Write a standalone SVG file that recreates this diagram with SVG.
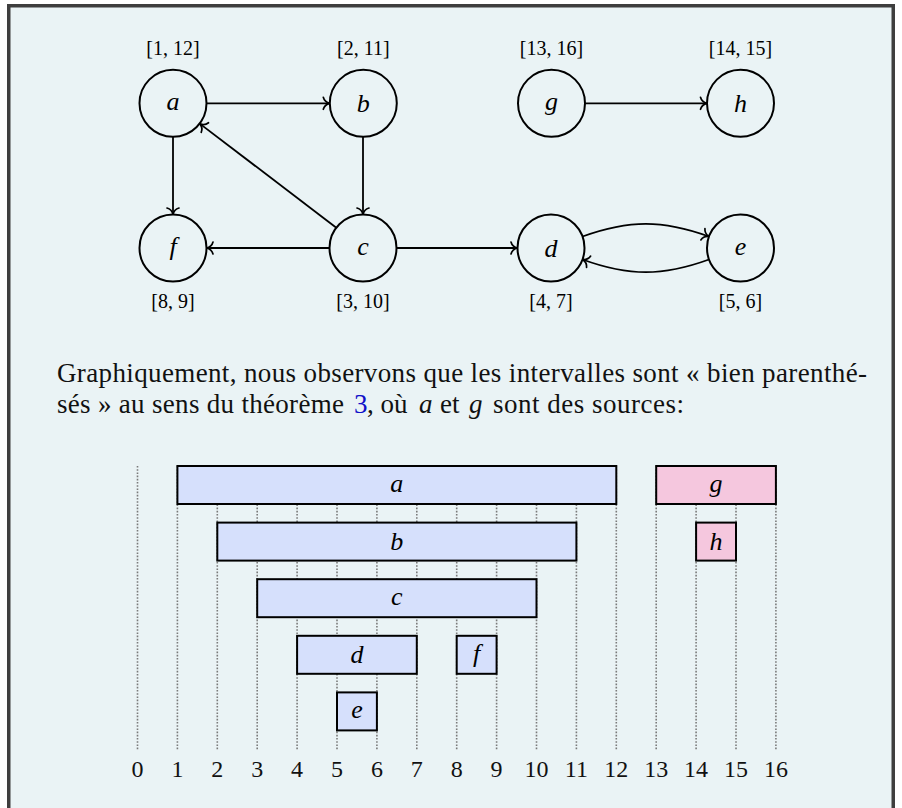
<svg xmlns="http://www.w3.org/2000/svg" width="902" height="808" viewBox="0 0 902 808">
<style>
.frame{fill:#EAF3F5;stroke:#3E3E3E;stroke-width:3.5}
.node circle{fill:none;stroke:#000;stroke-width:2}
.node .v{font-family:"Liberation Serif",serif;font-style:italic;font-size:26px;text-anchor:middle}
.node .lbl{font-family:"Liberation Serif",serif;font-style:normal;font-size:20px;text-anchor:middle}
.edge{fill:none;stroke:#000;stroke-width:1.8;marker-end:url(#to)}
.body{font-family:"Liberation Serif",serif;font-size:27px;fill:#111}
.math{font-family:"Liberation Serif",serif;font-style:italic;font-size:27px;fill:#111}
.grid line{stroke:#7A7A7A;stroke-width:1.6;stroke-dasharray:1.6 1.6}
.bar rect{stroke:#000;stroke-width:2}
.blue rect{fill:#D6E0FC}
.pink rect{fill:#F5C7DE}
.bar text{font-family:"Liberation Serif",serif;font-style:italic;font-size:26px;text-anchor:middle}
.tick{font-family:"Liberation Serif",serif;font-size:24px;text-anchor:middle;fill:#111}
</style>
<defs>
<marker id="to" viewBox="-9 -8 11 16" markerWidth="11" markerHeight="16" refX="0" refY="0" orient="auto" markerUnits="userSpaceOnUse" overflow="visible">
<path d="M-6.5,-6 C-5.6,-2.6 -2.2,-0.5 0,0 C-2.2,0.5 -5.6,2.6 -6.5,6" fill="none" stroke="#000" stroke-width="1.7" stroke-linecap="round"/>
</marker>
</defs>
<rect x="0" y="0" width="902" height="808" fill="#FFFFFF"/>
<rect class="frame" x="8.75" y="5.75" width="884.5" height="830"/>

<g id="edges">
<path class="edge" d="M206.5,103.3 L329.8,103.3"/>
<path class="edge" d="M173,136.8 L173,214.5"/>
<path class="edge" d="M363,136.8 L363,214.5"/>
<path class="edge" d="M336.3,227.7 L199.7,123.6"/>
<path class="edge" d="M329.5,248 L206.5,248"/>
<path class="edge" d="M396.5,248 L517.5,248"/>
<path class="edge" d="M585.2,103.3 L707,103.3"/>
<path class="edge" d="M582.5,236.5 C629,219.6 662.5,219.6 709,236.5"/>
<path class="edge" d="M709,259.5 C662.5,276.4 629,276.4 582.5,259.5"/>
</g>

<g id="node-a" class="node"><circle cx="173" cy="103.3" r="33.5"/><text class="v" x="173" y="110">a</text><text class="lbl" x="173" y="55">[1, 12]</text></g>
<g id="node-b" class="node"><circle cx="363.3" cy="103.3" r="33.5"/><text class="v" x="363.3" y="112">b</text><text class="lbl" x="363.3" y="55">[2, 11]</text></g>
<g id="node-g" class="node"><circle cx="551.5" cy="103.3" r="33.5"/><text class="v" x="551.5" y="110">g</text><text class="lbl" x="551.5" y="55">[13, 16]</text></g>
<g id="node-h" class="node"><circle cx="740.5" cy="103.3" r="33.5"/><text class="v" x="740.5" y="112">h</text><text class="lbl" x="740.5" y="55">[14, 15]</text></g>
<g id="node-f" class="node"><circle cx="173" cy="248" r="33.5"/><text class="v" x="173" y="255">f</text><text class="lbl" x="173" y="308">[8, 9]</text></g>
<g id="node-c" class="node"><circle cx="363" cy="248" r="33.5"/><text class="v" x="363" y="255">c</text><text class="lbl" x="363" y="308">[3, 10]</text></g>
<g id="node-d" class="node"><circle cx="551" cy="248" r="33.5"/><text class="v" x="551" y="257">d</text><text class="lbl" x="551" y="308">[4, 7]</text></g>
<g id="node-e" class="node"><circle cx="740.5" cy="248" r="33.5"/><text class="v" x="740.5" y="255">e</text><text class="lbl" x="740.5" y="308">[5, 6]</text></g>

<g id="paragraph">
<text class="body" x="57" y="382" textLength="810" lengthAdjust="spacing">Graphiquement, nous observons que les intervalles sont « bien parenthé-</text>
<text class="body" x="57" y="413" textLength="287" lengthAdjust="spacing">sés » au sens du théorème</text>
<text class="body" x="354" y="413" style="fill:#1010C8">3</text>
<text class="body" x="367" y="413">, où</text>
<text class="math" x="419" y="413">a</text>
<text class="body" x="440" y="413">et</text>
<text class="math" x="469" y="413">g</text>
<text class="body" x="493" y="413" textLength="191" lengthAdjust="spacing">sont des sources:</text>
</g>

<g id="grid" class="grid">
<line x1="137.5" y1="466" x2="137.5" y2="749.3"/>
<line x1="177.4" y1="466" x2="177.4" y2="749.3"/>
<line x1="217.3" y1="466" x2="217.3" y2="749.3"/>
<line x1="257.2" y1="466" x2="257.2" y2="749.3"/>
<line x1="297.1" y1="466" x2="297.1" y2="749.3"/>
<line x1="337" y1="466" x2="337" y2="749.3"/>
<line x1="376.9" y1="466" x2="376.9" y2="749.3"/>
<line x1="416.8" y1="466" x2="416.8" y2="749.3"/>
<line x1="456.7" y1="466" x2="456.7" y2="749.3"/>
<line x1="496.6" y1="466" x2="496.6" y2="749.3"/>
<line x1="536.5" y1="466" x2="536.5" y2="749.3"/>
<line x1="576.4" y1="466" x2="576.4" y2="749.3"/>
<line x1="616.3" y1="466" x2="616.3" y2="749.3"/>
<line x1="656.2" y1="466" x2="656.2" y2="749.3"/>
<line x1="696.1" y1="466" x2="696.1" y2="749.3"/>
<line x1="736" y1="466" x2="736" y2="749.3"/>
<line x1="775.9" y1="466" x2="775.9" y2="749.3"/>
</g>

<g id="bar-a" class="bar blue"><rect x="177.4" y="466" width="438.9" height="38"/><text x="396.85" y="492">a</text></g>
<g id="bar-g" class="bar pink"><rect x="656.2" y="466" width="119.7" height="38"/><text x="716" y="492">g</text></g>
<g id="bar-b" class="bar blue"><rect x="217.3" y="522.6" width="359.1" height="38"/><text x="396.85" y="549.6">b</text></g>
<g id="bar-h" class="bar pink"><rect x="696.1" y="522.6" width="39.9" height="38"/><text x="716" y="549.6">h</text></g>
<g id="bar-c" class="bar blue"><rect x="257.2" y="579.2" width="279.3" height="38"/><text x="396.85" y="605.2">c</text></g>
<g id="bar-d" class="bar blue"><rect x="297.1" y="635.8" width="119.7" height="38"/><text x="357" y="662.8">d</text></g>
<g id="bar-f" class="bar blue"><rect x="456.7" y="635.8" width="39.9" height="38"/><text x="476.65" y="661.8">f</text></g>
<g id="bar-e" class="bar blue"><rect x="337" y="692.4" width="39.9" height="38"/><text x="357" y="718.4">e</text></g>

<g id="ticks">
<text class="tick" x="137.5" y="777">0</text>
<text class="tick" x="177.4" y="777">1</text>
<text class="tick" x="217.3" y="777">2</text>
<text class="tick" x="257.2" y="777">3</text>
<text class="tick" x="297.1" y="777">4</text>
<text class="tick" x="337" y="777">5</text>
<text class="tick" x="376.9" y="777">6</text>
<text class="tick" x="416.8" y="777">7</text>
<text class="tick" x="456.7" y="777">8</text>
<text class="tick" x="496.6" y="777">9</text>
<text class="tick" x="536.5" y="777">10</text>
<text class="tick" x="576.4" y="777">11</text>
<text class="tick" x="616.3" y="777">12</text>
<text class="tick" x="656.2" y="777">13</text>
<text class="tick" x="696.1" y="777">14</text>
<text class="tick" x="736" y="777">15</text>
<text class="tick" x="775.9" y="777">16</text>
</g>
</svg>
